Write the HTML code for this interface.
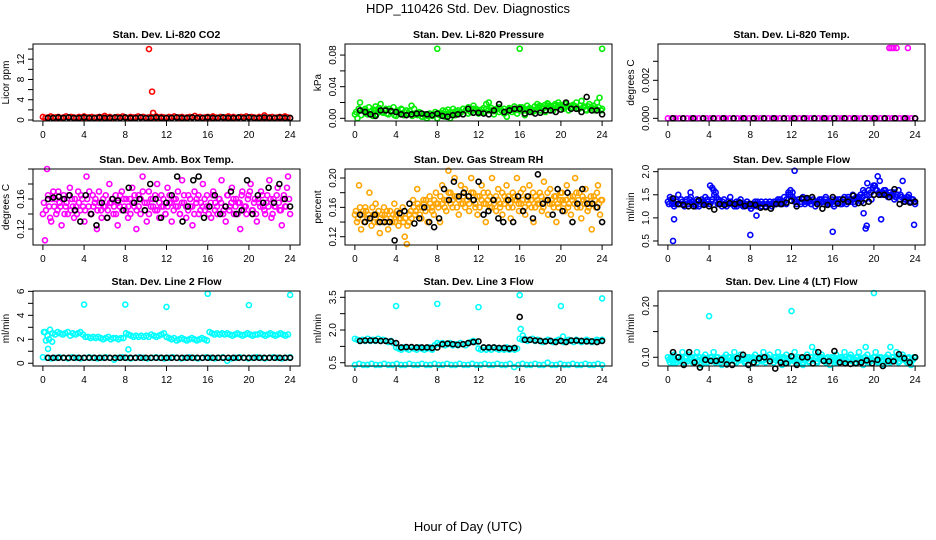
<!DOCTYPE html>
<html><head><meta charset="utf-8"><style>
html,body{margin:0;padding:0;background:#fff;}
svg{display:block;font-family:"Liberation Sans",Arial,sans-serif;}
</style></head><body>
<svg id="chart" width="936" height="540" viewBox="0 0 936 540" xmlns="http://www.w3.org/2000/svg">
<rect x="0" y="0" width="936" height="540" fill="#fff"/>
<text x="468" y="13" font-size="13" text-anchor="middle">HDP_110426  Std. Dev. Diagnostics</text>
<text x="468" y="531" font-size="13" text-anchor="middle">Hour of Day (UTC)</text>
</svg>
<script>
// ---- data ----
const xTicks = [0,4,8,12,16,20,24];
const xTickLabels = ["0","4","8","12","16","20","24"];

const co2Main = [0.6,0.4,0.5,0.7,0.5,0.5,0.6,0.4,0.5,0.7,0.5,0.6,0.5,0.4,0.6,0.5,0.7,0.5,0.5,0.6,0.4,0.5,0.6,0.5,0.8,0.5,0.6,0.4,0.5,0.6,0.5,0.7,0.5,0.4,0.6,0.5,0.5,0.7,0.5,0.6,0.4,0.5,0.6,0.5,0.7,0.5,0.6,0.5,0.4,0.6,0.5,0.7,0.5,0.5,0.6,0.4,0.5,0.6,0.5,0.8,0.5,0.6,0.4,0.5,0.6,0.5,0.7,0.5,0.4,0.6,0.5,0.5,0.7,0.5,0.6,0.4,0.5,0.6,0.5,0.7,0.5,0.6,0.5,0.4,0.6,0.5,0.9,0.5,0.5,0.6,0.4,0.5,0.6,0.5,0.7,0.5,0.4];
const co2OutHours = [10.3,10.6,10.7];
const co2OutVals = [14,5.6,1.4];
const co2Black = [0.4,0.4,0.5,0.4,0.5,0.4,0.4,0.5,0.4,0.4,0.5,0.4,0.4,0.5,0.4,0.5,0.4,0.4,0.5,0.4,0.4,0.5,0.4,0.4,0.4,0.5,0.4,0.4,0.5,0.4,0.4,0.5,0.4,0.4,0.5,0.4,0.4,0.5,0.4,0.5,0.4,0.4,0.5,0.4,0.4,0.5,0.4,0.4];

const presMain = [0.005,0.0,0.02,0.01,0.012,0.005,0.008,0.003,0.015,0.01,0.018,0.007,0.012,0.005,0.01,0.014,0.003,0.008,0.012,0.004,0.01,0.006,0.016,0.012,0.005,0.008,0.002,0.004,0.0,0.006,0.003,0.005,0.0,0.004,0.006,0.002,0.005,0.0,0.007,0.004,0.006,0.008,0.012,0.01,0.006,0.008,0.012,0.01,0.006,0.008,0.013,0.018,0.02,0.01,0.005,0.012,0.008,0.01,0.006,0.002,0.012,0.008,0.01,0.006,0.014,0.01,0.004,0.01,0.012,0.008,0.01,0.014,0.01,0.012,0.008,0.018,0.014,0.01,0.016,0.02,0.015,0.012,0.018,0.01,0.014,0.016,0.02,0.012,0.022,0.015,0.01,0.018,0.014,0.01,0.02,0.026,0.012];
const presMain2 = [0.008,0.012,0.004,0.01,0.006,0.014,0.009,0.011,0.005,0.013,0.008,0.01,0.006,0.012,0.009,0.004,0.01,0.007,0.011,0.008,0.005,0.009,0.003,0.006,0.004,0.007,0.002,0.005,0.003,0.006,0.004,0.008,0.005,0.007,0.01,0.009,0.011,0.008,0.012,0.009,0.01,0.007,0.012,0.01,0.014,0.011,0.016,0.012,0.009,0.011,0.008,0.012,0.01,0.013,0.009,0.011,0.014,0.01,0.012,0.009,0.013,0.011,0.015,0.012,0.01,0.014,0.012,0.016,0.013,0.011,0.015,0.018,0.016,0.014,0.017,0.019,0.016,0.013,0.018,0.015,0.017,0.014,0.019,0.016,0.013,0.017,0.015,0.012,0.016,0.014,0.011,0.015,0.013,0.016,0.012,0.014,0.01];
const presOutHours = [8,16,24];
const presOutVals = [0.088,0.088,0.088];
const presBlack = [0.01,0.008,0.005,0.003,0.01,0.01,0.009,0.008,0.005,0.004,0.005,0.006,0.006,0.005,0.004,0.006,0.003,0.002,0.004,0.005,0.005,0.012,0.007,0.007,0.006,0.005,0.01,0.018,0.008,0.01,0.012,0.012,0.006,0.008,0.006,0.007,0.01,0.01,0.008,0.011,0.02,0.012,0.012,0.008,0.027,0.01,0.01,0.005];

const tempMain = [0,0,0,0,0,0,0,0,0,0,0,0,0,0,0,0,0,0,0,0,0,0,0,0,0,0,0,0,0,0,0,0,0,0,0,0,0,0,0,0,0,0,0,0,0,0,0,0,0,0,0,0,0,0,0,0,0,0,0,0,0,0,0,0,0];
const tempOutHours = [21.5,21.7,21.9,22.2,23.3];
const tempOutVals = [0.0037,0.0037,0.0037,0.0037,0.0037];
const tempBlack = [0,0,0,0,0,0,0,0,0,0,0,0,0,0,0,0,0,0,0,0,0,0,0,0,0];

const boxMain = [0.14,0.105,0.2,0.15,0.13,0.17,0.16,0.145,0.155,0.125,0.165,0.15,0.14,0.175,0.16,0.135,0.15,0.17,0.145,0.16,0.13,0.19,0.15,0.14,0.165,0.155,0.12,0.17,0.145,0.16,0.15,0.135,0.18,0.155,0.14,0.165,0.125,0.15,0.17,0.16,0.145,0.135,0.16,0.175,0.15,0.12,0.165,0.14,0.19,0.155,0.13,0.17,0.15,0.16,0.145,0.18,0.135,0.165,0.15,0.14,0.175,0.155,0.13,0.16,0.15,0.17,0.14,0.185,0.155,0.135,0.165,0.15,0.125,0.17,0.16,0.14,0.155,0.18,0.145,0.165,0.15,0.135,0.17,0.155,0.14,0.16,0.185,0.145,0.13,0.165,0.15,0.175,0.14,0.16,0.155,0.12,0.17,0.15,0.14,0.165,0.18,0.145,0.16,0.13,0.155,0.17,0.15,0.14,0.165,0.185,0.135,0.16,0.15,0.175,0.145,0.125,0.165,0.15,0.19,0.14];
const boxMain2 = [0.155,0.145,0.165,0.135,0.16,0.15,0.14,0.17,0.15,0.16,0.14,0.155,0.165,0.145,0.15,0.16,0.14,0.155,0.165,0.15,0.145,0.16,0.17,0.14,0.15,0.16,0.145,0.155,0.135,0.15,0.165,0.145,0.155,0.16,0.15,0.14,0.155,0.165,0.145,0.15,0.16,0.15,0.14,0.155,0.165,0.145,0.15,0.16,0.17,0.145,0.155,0.14,0.16,0.15,0.165,0.145,0.155,0.15,0.16,0.14,0.15,0.165,0.155,0.145,0.16,0.15,0.14,0.155,0.165,0.15,0.145,0.16,0.15,0.14,0.155,0.165,0.145,0.15,0.16,0.15,0.14,0.155,0.165,0.145,0.15,0.16,0.155,0.14,0.15,0.165,0.145,0.155,0.16,0.15,0.14,0.155,0.165,0.145,0.15,0.16,0.17,0.145,0.155,0.14,0.16,0.15,0.165,0.145,0.155,0.15,0.16,0.14,0.15,0.165,0.155,0.145,0.16,0.15,0.175,0.16];
const boxBlack = [0.16,0.162,0.163,0.16,0.165,0.145,0.13,0.165,0.14,0.125,0.155,0.135,0.16,0.158,0.145,0.175,0.155,0.16,0.145,0.18,0.16,0.135,0.155,0.165,0.19,0.13,0.15,0.185,0.19,0.135,0.15,0.165,0.14,0.15,0.17,0.14,0.145,0.185,0.14,0.165,0.155,0.175,0.155,0.18,0.16,0.15];

const rhMain = [0.15,0.14,0.19,0.13,0.155,0.16,0.145,0.18,0.135,0.15,0.165,0.14,0.125,0.15,0.16,0.145,0.13,0.155,0.14,0.165,0.15,0.135,0.145,0.16,0.12,0.11,0.14,0.155,0.17,0.15,0.185,0.16,0.145,0.17,0.155,0.14,0.175,0.16,0.15,0.18,0.165,0.14,0.19,0.17,0.155,0.21,0.18,0.16,0.2,0.175,0.15,0.19,0.165,0.185,0.17,0.155,0.2,0.18,0.16,0.15,0.175,0.19,0.165,0.14,0.18,0.16,0.2,0.17,0.155,0.185,0.165,0.15,0.175,0.19,0.16,0.145,0.18,0.17,0.2,0.155,0.165,0.185,0.15,0.17,0.19,0.16,0.14,0.175,0.165,0.18,0.155,0.195,0.17,0.15,0.185,0.165,0.175,0.14,0.16,0.18,0.17,0.155,0.19,0.165,0.15,0.175,0.2,0.16,0.18,0.145,0.17,0.185,0.155,0.165,0.13,0.175,0.16,0.19,0.15,0.17];
const rhMain2 = [0.155,0.145,0.16,0.15,0.14,0.155,0.15,0.145,0.16,0.14,0.15,0.155,0.145,0.14,0.15,0.155,0.14,0.145,0.15,0.14,0.155,0.145,0.15,0.14,0.145,0.135,0.15,0.145,0.16,0.155,0.165,0.15,0.16,0.165,0.17,0.16,0.165,0.155,0.17,0.165,0.16,0.175,0.165,0.16,0.17,0.18,0.165,0.17,0.175,0.16,0.17,0.165,0.175,0.16,0.17,0.165,0.18,0.17,0.165,0.175,0.16,0.17,0.18,0.165,0.17,0.175,0.16,0.165,0.175,0.17,0.16,0.18,0.165,0.17,0.175,0.165,0.16,0.175,0.17,0.165,0.18,0.17,0.16,0.175,0.165,0.17,0.18,0.16,0.17,0.165,0.175,0.16,0.17,0.18,0.165,0.17,0.16,0.175,0.165,0.17,0.18,0.165,0.17,0.16,0.175,0.17,0.165,0.18,0.17,0.16,0.175,0.165,0.17,0.16,0.175,0.165,0.17,0.18,0.165,0.17];
const rhBlack = [0.15,0.14,0.145,0.15,0.14,0.14,0.14,0.115,0.152,0.155,0.165,0.138,0.145,0.16,0.14,0.133,0.145,0.185,0.17,0.195,0.175,0.18,0.175,0.17,0.195,0.15,0.155,0.17,0.145,0.14,0.17,0.14,0.175,0.155,0.175,0.145,0.205,0.165,0.17,0.15,0.185,0.155,0.18,0.14,0.165,0.185,0.165,0.165,0.16,0.14];

const flowMain = [1.35,1.45,1.3,1.25,1.4,1.5,1.3,1.35,1.25,1.4,1.3,1.45,1.35,1.3,1.4,1.25,1.35,1.3,1.45,1.4,1.3,1.35,1.6,1.55,1.3,1.35,1.25,1.4,1.3,1.35,1.45,1.3,1.25,1.35,1.3,1.4,1.3,1.25,1.35,1.3,1.2,1.3,1.35,1.25,1.3,1.35,1.3,1.25,1.3,1.35,1.3,1.3,1.35,1.4,1.3,1.35,1.45,1.3,1.5,1.6,1.55,1.35,1.3,1.4,1.35,1.45,1.3,1.35,1.4,1.3,1.35,1.25,1.3,1.4,1.35,1.3,1.45,1.35,1.3,1.4,1.25,1.35,1.4,1.3,1.35,1.45,1.3,1.4,1.35,1.5,1.3,1.4,1.45,1.35,1.6,1.4,1.75,1.5,1.4,1.7,1.6,1.9,1.8,1.55,1.6,1.5,1.45,1.55,1.5,1.4,1.45,1.6,1.5,1.8,1.4,1.45,1.5,1.35,1.4,1.3];
const flowMain2 = [1.3,1.4,1.35,1.3,1.35,1.3,1.4,1.3,1.35,1.3,1.4,1.35,1.3,1.25,1.35,1.3,1.4,1.35,1.3,1.35,1.3,1.4,1.5,1.45,1.4,1.3,1.35,1.3,1.25,1.3,1.35,1.3,1.3,1.25,1.35,1.3,1.25,1.3,1.35,1.25,1.3,1.25,1.3,1.35,1.3,1.25,1.3,1.35,1.3,1.3,1.25,1.35,1.3,1.35,1.4,1.3,1.35,1.4,1.55,1.5,1.45,1.4,1.35,1.4,1.3,1.4,1.35,1.4,1.35,1.3,1.4,1.35,1.3,1.35,1.4,1.35,1.4,1.3,1.35,1.35,1.3,1.4,1.35,1.4,1.3,1.4,1.35,1.45,1.4,1.4,1.35,1.45,1.4,1.5,1.45,1.55,1.5,1.6,1.55,1.65,1.7,1.6,1.55,1.5,1.55,1.6,1.5,1.45,1.5,1.55,1.45,1.5,1.4,1.45,1.35,1.4,1.45,1.35,1.4,1.35];
const flowOutHours = [0.5,0.6,2.2,8.0,8.6,12.3,16.0,19.0,19.2,19.3,20.7,23.9,4.1,4.3];
const flowOutVals = [0.5,0.97,1.55,0.63,1.05,2.02,0.7,1.1,0.77,0.83,0.97,0.85,1.7,1.65];
const flowBlack = [1.42,1.3,1.28,1.25,1.25,1.38,1.28,1.25,1.18,1.3,1.28,1.32,1.3,1.33,1.26,1.3,1.28,1.22,1.23,1.2,1.3,1.3,1.33,1.37,1.25,1.42,1.43,1.45,1.3,1.2,1.28,1.45,1.31,1.4,1.35,1.48,1.32,1.32,1.35,1.5,1.5,1.5,1.45,1.62,1.3,1.35,1.33,1.35];

const l2Upper = [2.6,2.3,2.8,2.5,2.4,2.6,2.5,2.4,2.5,2.6,2.3,2.5,2.4,2.5,2.6,2.4,2.2,2.2,2.1,2.2,2.1,2.2,2.1,2.0,2.1,2.2,2.0,2.1,2.1,2.0,2.1,2.1,2.5,2.4,2.3,2.2,2.3,2.2,2.3,2.2,2.3,2.2,2.4,2.3,2.2,2.3,2.4,2.5,2.2,2.1,2.0,2.1,1.9,2.0,2.1,2.0,1.9,2.0,2.1,2.0,1.9,2.0,2.1,2.0,1.9,2.6,2.5,2.4,2.5,2.4,2.5,2.4,2.5,2.4,2.3,2.4,2.5,2.4,2.3,2.4,2.5,2.4,2.3,2.4,2.4,2.5,2.4,2.3,2.4,2.5,2.4,2.3,2.4,2.5,2.4,2.3,2.4];
const l2Lower = [0.5,0.45,0.4,0.45,0.5,0.45,0.4,0.5,0.45,0.4,0.45,0.5,0.45,0.4,0.45,0.5,0.45,0.3,0.45,0.5,0.45,0.4,0.45,0.5,0.45,0.4,0.45,0.5,0.45,0.4,0.45,0.5,0.45,0.4,0.45,0.5,0.45,0.4,0.45,0.5,0.45,0.4,0.45,0.5,0.2,0.4,0.45,0.5,0.45,0.4,0.45,0.5,0.45,0.4,0.45,0.5,0.45,0.4,0.45,0.5];
const l2OutHours = [0.1,0.3,0.5,0.6,0.9,4,8,8.3,12,16,20,24];
const l2OutVals = [2.6,1.9,1.2,2.0,1.8,4.9,4.9,1.15,4.7,5.8,4.85,5.7];
const l2Black = [0.45,0.45,0.45,0.45,0.45,0.45,0.45,0.45,0.45,0.45,0.45,0.45,0.45,0.45,0.45,0.45,0.45,0.45,0.45,0.45,0.45,0.45,0.45,0.45,0.45,0.45,0.45,0.45,0.45,0.45,0.45,0.45,0.45,0.45,0.45,0.45,0.45,0.45,0.45,0.45,0.45,0.45,0.45,0.45,0.45,0.45,0.45,0.45];

const l3Upper = [1.6,1.55,1.5,1.55,1.5,1.6,1.5,1.55,1.5,1.6,1.5,1.55,1.5,1.45,1.5,1.4,1.2,1.15,1.1,1.2,1.15,1.1,1.2,1.15,1.1,1.2,1.15,1.1,1.15,1.2,1.1,1.3,1.4,1.35,1.4,1.3,1.35,1.4,1.3,1.35,1.3,1.4,1.35,1.3,1.4,1.45,1.5,1.45,1.15,1.1,1.2,1.1,1.15,1.1,1.2,1.15,1.1,1.15,1.1,1.2,1.1,1.15,1.1,1.15,1.6,1.55,1.6,1.5,1.55,1.6,1.5,1.55,1.5,1.45,1.5,1.55,1.5,1.45,1.5,1.55,1.5,1.45,1.5,1.55,1.5,1.45,1.55,1.5,1.45,1.5,1.55,1.5,1.45,1.5,1.55,1.5,1.55];
const l3Lower = [0.4,0.45,0.4,0.4,0.45,0.4,0.4,0.45,0.4,0.4,0.45,0.4,0.4,0.45,0.4,0.4,0.45,0.4,0.4,0.45,0.4,0.4,0.45,0.4,0.4,0.45,0.4,0.4,0.45,0.4,0.4,0.45,0.4,0.4,0.45,0.4,0.4,0.45,0.3,0.4,0.45,0.4,0.4,0.45,0.4,0.4,0.5,0.4,0.4,0.45,0.4,0.4,0.45,0.4,0.4,0.45,0.4,0.4,0.45,0.4];
const l3OutHours = [4,8,12,16,16.1,16.3,20,20.2,24];
const l3OutVals = [3.1,3.2,3.05,3.6,2.05,1.75,3.1,1.7,3.45];
const l3Black = [1.5,1.52,1.52,1.52,1.5,1.5,1.48,1.4,1.2,1.22,1.22,1.2,1.2,1.2,1.18,1.2,1.35,1.38,1.35,1.32,1.35,1.4,1.45,1.48,1.2,1.2,1.2,1.18,1.18,1.15,1.18,2.6,1.55,1.55,1.52,1.5,1.48,1.5,1.45,1.5,1.45,1.52,1.52,1.5,1.48,1.48,1.45,1.5];

const l4Main = [0.1,0.09,0.095,0.105,0.09,0.1,0.095,0.11,0.09,0.1,0.105,0.095,0.09,0.1,0.11,0.095,0.085,0.1,0.105,0.09,0.095,0.1,0.11,0.09,0.1,0.095,0.085,0.1,0.105,0.09,0.1,0.095,0.11,0.09,0.1,0.105,0.095,0.09,0.1,0.085,0.095,0.1,0.105,0.09,0.1,0.095,0.11,0.09,0.1,0.105,0.095,0.09,0.1,0.11,0.095,0.085,0.1,0.105,0.09,0.095,0.1,0.11,0.09,0.1,0.095,0.085,0.1,0.105,0.09,0.1,0.095,0.11,0.09,0.1,0.105,0.095,0.09,0.1,0.085,0.095,0.1,0.105,0.09,0.1,0.095,0.11,0.09,0.1,0.105,0.095,0.09,0.1,0.11,0.095,0.085,0.1,0.105,0.09,0.095,0.1,0.11,0.09,0.1,0.095,0.085,0.1,0.105,0.09,0.1,0.095,0.11,0.09,0.1,0.105,0.095,0.09,0.1,0.085,0.095,0.1];
const l4Main2 = [0.095,0.1,0.09,0.095,0.1,0.092,0.098,0.094,0.1,0.092,0.096,0.1,0.094,0.098,0.092,0.1,0.096,0.09,0.098,0.094,0.1,0.092,0.096,0.1,0.094,0.09,0.098,0.096,0.092,0.1,0.094,0.098,0.092,0.096,0.1,0.094,0.098,0.092,0.096,0.1,0.094,0.09,0.098,0.096,0.1,0.092,0.094,0.098,0.1,0.092,0.096,0.1,0.094,0.098,0.092,0.1,0.096,0.09,0.098,0.094,0.1,0.092,0.096,0.1,0.094,0.09,0.098,0.096,0.092,0.1,0.094,0.098,0.092,0.096,0.1,0.094,0.098,0.092,0.096,0.1,0.094,0.09,0.098,0.096,0.1,0.092,0.094,0.098,0.1,0.092,0.096,0.1,0.094,0.098,0.092,0.1,0.096,0.09,0.098,0.094,0.1,0.092,0.096,0.1,0.094,0.09,0.098,0.096,0.092,0.1,0.094,0.098,0.092,0.096,0.1,0.094,0.098,0.092,0.096,0.1];
const l4OutHours = [4,12,20,14,19.2,21.6];
const l4OutVals = [0.18,0.19,0.225,0.12,0.12,0.12];
const l4Black = [0.11,0.1,0.085,0.11,0.09,0.08,0.095,0.093,0.093,0.095,0.086,0.085,0.098,0.105,0.085,0.09,0.098,0.1,0.092,0.078,0.09,0.088,0.102,0.085,0.1,0.1,0.088,0.11,0.093,0.092,0.112,0.09,0.088,0.087,0.088,0.09,0.094,0.088,0.095,0.083,0.093,0.092,0.106,0.098,0.09,0.1];

// ---- layout ----
const colLeft = [33,345,658], boxW = 267;
const rowTop = [44,169,291], rowH = [77,76,75];
const xMin = -0.96, xMax = 24.96;
const svg = document.getElementById('chart');
const NS = 'http://www.w3.org/2000/svg';
function mk(tag, attrs, parent){
  const e = document.createElementNS(NS, tag);
  for (const k in attrs) e.setAttribute(k, attrs[k]);
  (parent||svg).appendChild(e);
  return e;
}
function spread(n, a, b){ const h=[]; for(let i=0;i<n;i++) h.push(n>1 ? a+(b-a)*i/(n-1) : a); return h; }

const panels = [
 {key:'co2', title:'Stan. Dev. Li-820 CO2', ylab:'Licor ppm', usr:[-0.2,15], yt:[0,2,4,6,8,10,12,14], yl:['0','','4','','8','','12',''], series:[
   {v:co2Main, a:0, b:24, c:'#ff0000'}, {v:co2OutVals, h:co2OutHours, c:'#ff0000'}, {v:co2Black, a:0.5, b:24, c:'#000'}]},
 {key:'pressure', title:'Stan. Dev. Li-820 Pressure', ylab:'kPa', usr:[-0.0034,0.094], yt:[0,0.02,0.04,0.06,0.08], yl:['0.00','','0.04','','0.08'], series:[
   {v:presMain, a:0, b:24, c:'#00ee00'}, {v:presMain2, a:0.12, b:23.9, c:'#00ee00'}, {v:presOutVals, h:presOutHours, c:'#00ee00'}, {v:presBlack, a:0.5, b:24, c:'#000'}]},
 {key:'temp', title:'Stan. Dev. Li-820 Temp.', ylab:'degrees C', usr:[-0.00014,0.00391], yt:[0,0.001,0.002,0.003], yl:['0.000','','0.002',''], series:[
   {v:tempMain, a:0, b:24, c:'#ff00ff'}, {v:tempOutVals, h:tempOutHours, c:'#ff00ff'}, {v:tempBlack, a:0.5, b:24, c:'#000'}]},
 {key:'box-temp', title:'Stan. Dev. Amb. Box Temp.', ylab:'degrees C', usr:[0.0987,0.2], yt:[0.12,0.14,0.16,0.18,0.20], yl:['0.12','','0.16','',''], series:[
   {v:boxMain, a:0, b:24, c:'#ff00ff'}, {v:boxMain2, a:0.1, b:23.9, c:'#ff00ff'}, {v:boxBlack, a:0.5, b:24, c:'#000'}]},
 {key:'rh', title:'Stan. Dev. Gas Stream RH', ylab:'percent', usr:[0.1087,0.2123], yt:[0.12,0.14,0.16,0.18,0.20], yl:['0.12','','0.16','','0.20'], series:[
   {v:rhMain, a:0, b:24, c:'#ffa500'}, {v:rhMain2, a:0.1, b:23.9, c:'#ffa500'}, {v:rhBlack, a:0.5, b:24, c:'#000'}]},
 {key:'sample-flow', title:'Stan. Dev. Sample Flow', ylab:'ml/min', usr:[0.413,2.058], yt:[0.5,1.0,1.5,2.0], yl:['0.5','1.0','1.5','2.0'], series:[
   {v:flowMain, a:0, b:24, c:'#0000ff'}, {v:flowMain2, a:0.1, b:23.9, c:'#0000ff'}, {v:flowOutVals, h:flowOutHours, c:'#0000ff'}, {v:flowBlack, a:0.5, b:24, c:'#000'}]},
 {key:'line2', title:'Stan. Dev. Line 2 Flow', ylab:'ml/min', usr:[-0.23,6.03], yt:[0,1,2,3,4,5,6], yl:['0','','2','','4','','6'], series:[
   {v:l2Upper, a:0.2, b:23.8, c:'#00ffff'}, {v:l2Lower, a:0, b:24, c:'#00ffff'}, {v:l2OutVals, h:l2OutHours, c:'#00ffff'}, {v:l2Black, a:0.5, b:24, c:'#000'}]},
 {key:'line3', title:'Stan. Dev. Line 3 Flow', ylab:'ml/min', usr:[0.35,3.79], yt:[0.5,1.25,2.0,2.75,3.5], yl:['0.5','','2.0','','3.5'], series:[
   {v:l3Upper, a:0, b:24, c:'#00ffff'}, {v:l3Lower, a:0, b:24, c:'#00ffff'}, {v:l3OutVals, h:l3OutHours, c:'#00ffff'}, {v:l3Black, a:0.5, b:24, c:'#000'}]},
 {key:'line4', title:'Stan. Dev. Line 4 (LT) Flow', ylab:'ml/min', usr:[0.083,0.229], yt:[0.10,0.15,0.20], yl:['0.10','','0.20'], series:[
   {v:l4Main, a:0, b:24, c:'#00ffff'}, {v:l4Main2, a:0.1, b:23.9, c:'#00ffff'}, {v:l4OutVals, h:l4OutHours, c:'#00ffff'}, {v:l4Black, a:0.5, b:24, c:'#000'}]}
];

panels.forEach((p, idx) => {
  const L = colLeft[idx%3], T = rowTop[Math.floor(idx/3)], H = rowH[Math.floor(idx/3)];
  const xs = v => L + (v - xMin) / (xMax - xMin) * boxW;
  const ys = v => T + H - (v - p.usr[0]) / (p.usr[1] - p.usr[0]) * H;
  const g = mk('g', {});
  
  
  const t = mk('text', {x: L + boxW/2, y: T - 6, 'font-size': 10.5, 'font-weight': 'bold', 'text-anchor': 'middle'}, g);
  t.textContent = p.title;
  
  
  const yl = mk('text', {x: 0, y: 0, 'font-size': 10, 'text-anchor': 'middle', transform: `translate(${L-24},${T+H/2}) rotate(-90)`}, g);
  yl.textContent = p.ylab;
  
  
  xTicks.forEach((v, i) => {
    const X = xs(v);
    mk('line', {x1: X, x2: X, y1: T+H, y2: T+H+5, stroke: '#000', 'stroke-width': 1}, g);
    const tl = mk('text', {x: X, y: T+H+17, 'font-size': 10, 'text-anchor': 'middle'}, g);
    tl.textContent = xTickLabels[i];
    
    
  });
  p.yt.forEach((v, i) => {
    const Y = ys(v);
    mk('line', {x1: L-5, x2: L, y1: Y, y2: Y, stroke: '#000', 'stroke-width': 1}, g);
    if (p.yl[i]) {
      const tl = mk('text', {x: 0, y: 0, 'font-size': 10, 'text-anchor': 'middle', transform: `translate(${L-9},${Y}) rotate(-90)`}, g);
      tl.textContent = p.yl[i];
      
      
    }
  });
  p.series.forEach(s => {
    const hrs = s.h ? s.h : spread(s.v.length, s.a, s.b);
    s.v.forEach((v, i) => {
      const c = mk('circle', {cx: xs(hrs[i]), cy: ys(v), r: 2.5, fill: 'none', stroke: s.c, 'stroke-width': 1.6}, g);
      
      
    });
  });
  const box = mk('rect', {x: L, y: T, width: boxW, height: H, fill: 'none', stroke: '#000', 'stroke-width': 1}, g);
  
  
});
</script>
</body></html>
